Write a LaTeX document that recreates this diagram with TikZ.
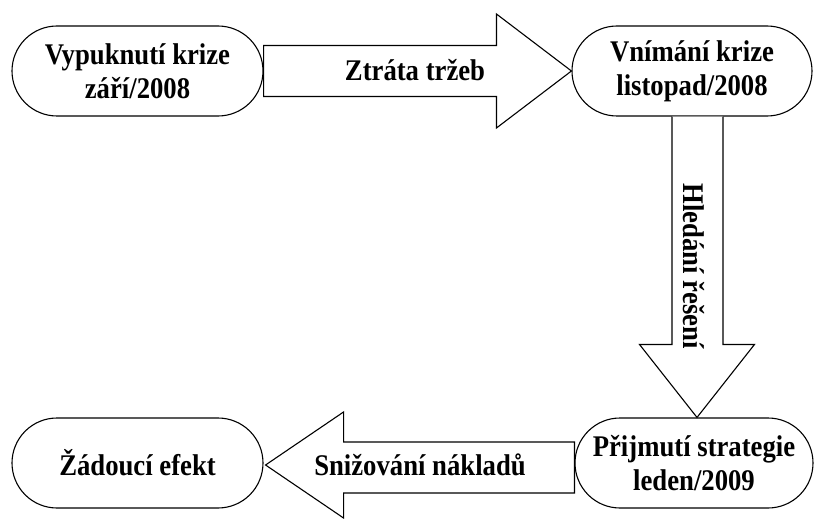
\documentclass[tikz,border=0pt]{standalone}
\usepackage{fontspec}
\setmainfont{Liberation Serif}[FakeStretch=0.89]
\usetikzlibrary{calc}
\begin{document}
\begin{tikzpicture}[x=1pt,y=-1pt,
  term/.style={draw, line width=1.1pt, fill=white, rounded corners=45pt,
    minimum width=251pt, minimum height=90pt, align=center, inner sep=0pt,
    font=\bfseries\fontsize{30}{34}\selectfont},
  blockarrow/.style={draw, line width=1.1pt, fill=white, line join=miter},
  lbl/.style={inner sep=0pt, font=\bfseries\fontsize{30}{34}\selectfont}]
\useasboundingbox (0,0) rectangle (815,519);

% process stages
\node[term] (crisis) at (137.5,71) {Vypuknutí krize\\září/2008};
\node[term, minimum width=240pt] (notice) at (692,71) {Vnímání krize\\listopad/2008};
\node[term, minimum width=238pt] (accept) at (694,463) {Přijmutí strategie\\leden/2009};
\node[term] (goal) at (137.5,463) {Žádoucí efekt};

% block arrow: crisis -> notice
\draw[blockarrow]
  ($(crisis.east)+(0,-25.5)$) -- ($(notice.west)+(-75,-25.5)$)
  -- ($(notice.west)+(-75,-57)$) -- (notice.west)
  -- ($(notice.west)+(-75,57)$) -- ($(notice.west)+(-75,25.5)$)
  -- ($(crisis.east)+(0,25.5)$) -- cycle;
\node[lbl] (loss) at (415,70) {Ztráta tržeb};

% block arrow: notice -> accept
\draw[blockarrow]
  ($(notice.south)+(-20,0)$) -- ($(accept.north)+(-22,-73)$)
  -- ($(accept.north)+(-54.5,-73)$) -- ($(accept.north)+(3,0)$)
  -- ($(accept.north)+(60.5,-73)$) -- ($(accept.north)+(29,-73)$)
  -- ($(notice.south)+(31,0)$);
\node[lbl, rotate=-90] (search) at (694,266) {Hledání řešení};

% block arrow: accept -> goal
\draw[blockarrow]
  ($(accept.west)+(0,-21)$) -- ($(goal.east)+(80,-21)$)
  -- ($(goal.east)+(80,-51)$) -- ($(goal.east)+(2,2)$)
  -- ($(goal.east)+(80,55)$) -- ($(goal.east)+(80,30)$)
  -- ($(accept.west)+(0,30)$) -- cycle;
\node[lbl] (cut) at (420,465) {Snižování nákladů};
\end{tikzpicture}
\end{document}
